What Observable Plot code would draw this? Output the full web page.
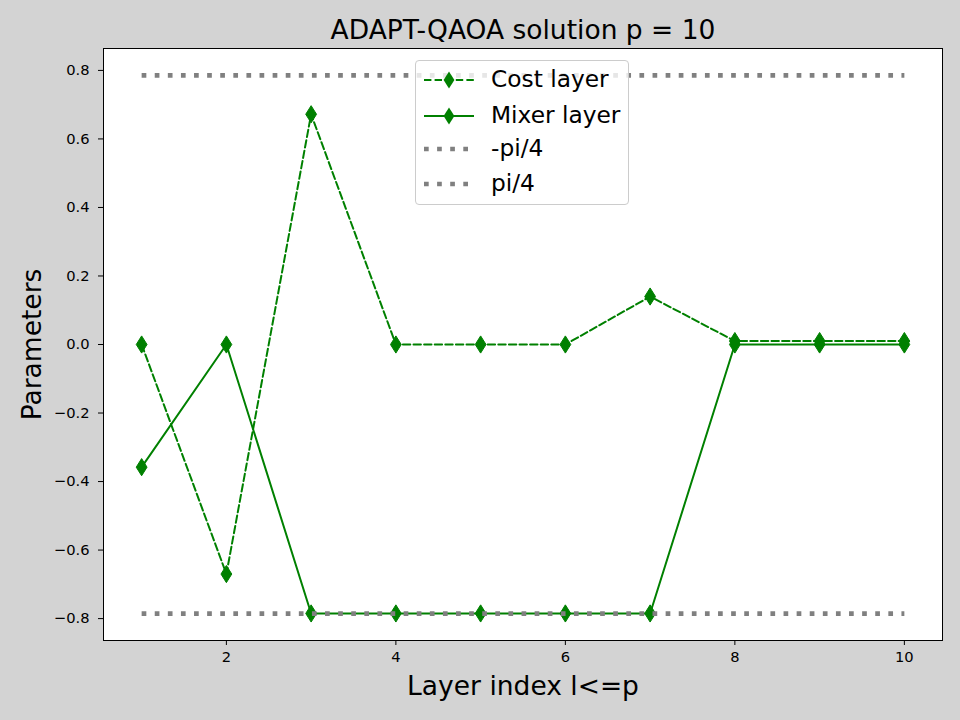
<!DOCTYPE html>
<html>
<head>
<meta charset="utf-8">
<script src="https://cdn.jsdelivr.net/npm/d3@7"></script>
<script src="https://cdn.jsdelivr.net/npm/@observablehq/plot@0.6"></script>
<style>
  html, body { margin: 0; padding: 0; background: #d3d3d3; }
  #wrap { position: relative; width: 960px; height: 720px; font-family: "DejaVu Sans", sans-serif; }
  #legend { position: absolute; left: 415px; top: 60px; width: 212px; height: 143px;
    border: 1px solid #cccccc; border-radius: 4px; background: rgba(255,255,255,0.8); }
  .row { position: absolute; left: 0; height: 24px; width: 212px; }
  .row svg { position: absolute; left: 0; top: 0; }
  .row span { position: absolute; left: 75px; top: -1px; height: 24px; line-height: 24px; font-size: 23.3px; white-space: nowrap; color: #000; }
</style>
</head>
<body>
<div id="wrap"></div>
<script>
const layers = [1, 2, 3, 4, 5, 6, 7, 8, 9, 10];
const costLayer = [0, -0.67, 0.672, 0, 0, 0, 0.14, 0.01, 0.01, 0.01];
const mixerLayer = [-0.358, 0, -0.785, -0.785, -0.785, -0.785, -0.785, 0, 0, 0];
const refLevels = [-Math.PI / 4, Math.PI / 4];
const refLabels = ["-pi/4", "pi/4"];
const xTicks = [2, 4, 6, 8, 10];
const yTicks = [-0.8, -0.6, -0.4, -0.2, 0, 0.2, 0.4, 0.6, 0.8];
const seriesLabels = ["Cost layer", "Mixer layer"];
const titleText = "ADAPT-QAOA solution p = 10";
const xLabel = "Layer index l<=p";
const yLabel = "Parameters";

const green = "#008000";
const grayC = "#808080";

const costData = layers.map((l, i) => ({l, v: costLayer[i]}));
const mixerData = layers.map((l, i) => ({l, v: mixerLayer[i]}));
const refData = refLevels.flatMap((v, k) => [{l: layers[0], v, k}, {l: layers[layers.length - 1], v, k}]);

const thinDiamond = {
  draw(context, size) {
    const w = 5.4, h = 8.6;
    context.moveTo(0, -h);
    context.lineTo(w, 0);
    context.lineTo(0, h);
    context.lineTo(-w, 0);
    context.closePath();
  }
};

const xPad = (layers[layers.length-1] - layers[0]) * 0.05;
const yMin = -Math.PI/4, yMax = Math.PI/4;
const yPad = (yMax - yMin) * 0.05;

const chart = Plot.plot({
  width: 960,
  height: 720,
  marginLeft: 103,
  marginRight: 18,
  marginTop: 48,
  marginBottom: 80,
  style: {background: "#d3d3d3", fontFamily: "DejaVu Sans, sans-serif", color: "#000"},
  x: {domain: [layers[0] - xPad, layers[layers.length-1] + xPad]},
  y: {domain: [yMin - yPad, yMax + yPad]},
  marks: [
    Plot.frame({fill: "white", stroke: "none"}),
    Plot.line(costData, {x: "l", y: "v", stroke: green, strokeWidth: 2, strokeDasharray: "7.4 3.2"}),
    Plot.dot(costData, {x: "l", y: "v", symbol: thinDiamond, fill: green, stroke: green, strokeWidth: 1}),
    Plot.line(mixerData, {x: "l", y: "v", stroke: green, strokeWidth: 2}),
    Plot.dot(mixerData, {x: "l", y: "v", symbol: thinDiamond, fill: green, stroke: green, strokeWidth: 1}),
    Plot.line(refData, {x: "l", y: "v", z: "k", stroke: grayC, strokeWidth: 4.7, strokeDasharray: "4.7 8.4", strokeLinecap: "butt"}),
    Plot.frame({stroke: "black", strokeWidth: 1}),
    Plot.axisX({ticks: xTicks, tickSize: 5, tickPadding: 6, fontSize: 14.7, label: null, tickFormat: d => String(d)}),
    Plot.axisY({ticks: yTicks, tickSize: 5, tickPadding: 9, fontSize: 14.7, label: null, tickFormat: d3.format(".1f")}),
    Plot.text([titleText], {frameAnchor: "top", dy: -18, lineAnchor: "middle", textAnchor: "middle", fontSize: 26.5, fill: "black", text: d => d}),
    Plot.text([xLabel], {frameAnchor: "bottom", dy: 46, lineAnchor: "middle", textAnchor: "middle", fontSize: 26.5, fill: "black", text: d => d}),
    Plot.text([yLabel], {frameAnchor: "left", dx: -71, rotate: -90, lineAnchor: "middle", textAnchor: "middle", fontSize: 26.5, fill: "black", text: d => d})
  ]
});

const wrap = document.getElementById("wrap");
wrap.appendChild(chart);

// Legend overlay
const legend = document.createElement("div");
legend.id = "legend";
const entries = [
  {label: seriesLabels[0], stroke: green, dash: "7.4 3.2", width: 2, marker: true},
  {label: seriesLabels[1], stroke: green, dash: null, width: 2, marker: true},
  {label: refLabels[0], stroke: grayC, dash: "4.7 8.4", width: 4.7, marker: false},
  {label: refLabels[1], stroke: grayC, dash: "4.7 8.4", width: 4.7, marker: false}
];
const rowCenters = [19, 55, 88, 123];
entries.forEach((e, i) => {
  const row = document.createElement("div");
  row.className = "row";
  row.style.top = (rowCenters[i] - 12) + "px";
  const ns = "http://www.w3.org/2000/svg";
  const svg = document.createElementNS(ns, "svg");
  svg.setAttribute("width", "75");
  svg.setAttribute("height", "24");
  const line = document.createElementNS(ns, "line");
  line.setAttribute("x1", "8"); line.setAttribute("x2", "58");
  line.setAttribute("y1", "12"); line.setAttribute("y2", "12");
  line.setAttribute("stroke", e.stroke);
  line.setAttribute("stroke-width", e.width);
  if (e.dash) line.setAttribute("stroke-dasharray", e.dash);
  svg.appendChild(line);
  if (e.marker) {
    const p = document.createElementNS(ns, "path");
    p.setAttribute("d", "M33,3.4L38.4,12L33,20.6L27.6,12Z");
    p.setAttribute("fill", e.stroke);
    svg.appendChild(p);
  }
  row.appendChild(svg);
  const span = document.createElement("span");
  span.textContent = e.label;
  row.appendChild(span);
  legend.appendChild(row);
});
wrap.appendChild(legend);
</script>
</body>
</html>
